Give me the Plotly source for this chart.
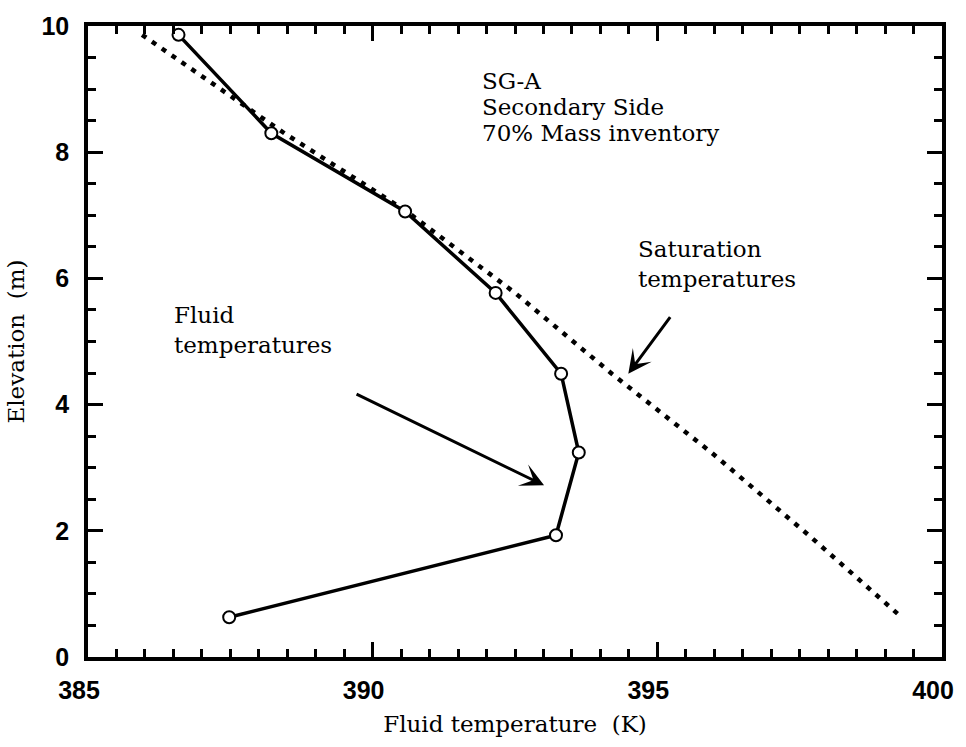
import plotly.graph_objects as go

# Node elevations (m) and temperatures (K) on the SG-A secondary side
elevation = [9.86, 8.30, 7.06, 5.77, 4.49, 3.24, 1.93, 0.63]
fluid_temp = [386.59, 388.22, 390.57, 392.16, 393.31, 393.62, 393.22, 387.48]
sat_temp = [385.95, 388.45, 390.60, 392.50, 394.20, 395.95, 397.66, 399.29]

x_range = [385, 400]
y_range = [0, 10]

SERIF = "DejaVu Serif"
SANS = "Liberation Sans"
TXT = 23

fig = go.Figure()

# saturation temperatures: dotted line
fig.add_trace(go.Scatter(
    x=sat_temp, y=elevation, mode="lines",
    line=dict(color="black", width=4.5, dash="5px,7px"),
    hoverinfo="skip", showlegend=False,
))

# fluid temperatures: solid line with open circles
fig.add_trace(go.Scatter(
    x=fluid_temp, y=elevation, mode="lines+markers",
    line=dict(color="black", width=3.5),
    marker=dict(symbol="circle", size=12, color="white",
                line=dict(color="black", width=2)),
    hoverinfo="skip", showlegend=False,
))

def label(x, y, text):
    fig.add_annotation(x=x, y=y, xref="x", yref="y", text=text,
                       showarrow=False, xanchor="left", yanchor="middle",
                       font=dict(family=SERIF, size=TXT, color="black"))

label(391.88, 9.13, "SG-A")
label(391.88, 8.72, "Secondary Side")
label(391.88, 8.31, "70% Mass inventory")

label(394.63, 6.46, "Saturation")
label(394.63, 5.99, "temperatures")

label(386.47, 5.42, "Fluid")
label(386.47, 4.95, "temperatures")

# arrows pointing at the two curves
arrow = dict(xref="x", yref="y", axref="pixel", ayref="pixel", text="",
             showarrow=True, arrowhead=3, arrowsize=1.3, arrowwidth=3,
             arrowcolor="black")
fig.add_annotation(x=393.01, y=2.72, ax=-189, ay=-92, **arrow)
fig.add_annotation(x=394.49, y=4.49, ax=43, ay=-58, **arrow)

axis_common = dict(
    showline=True, linecolor="black", linewidth=3.5, mirror="ticks",
    ticks="inside", ticklen=15, tickwidth=3, tickcolor="black",
    showgrid=False, zeroline=False,
    tickfont=dict(family=SANS, size=25, color="black", weight="bold"),
    title_font=dict(family=SERIF, size=TXT, color="black"),
)

fig.update_xaxes(
    range=x_range, dtick=5, tick0=385,
    minor=dict(ticks="inside", ticklen=8, tickwidth=2.5, dtick=0.5,
               tickcolor="black"),
    ticklabelshift=-9, ticklabelstandoff=8,
    title_text="Fluid temperature \u00a0(K)", title_standoff=14,
    **axis_common,
)
fig.update_yaxes(
    range=y_range, dtick=2, tick0=0,
    minor=dict(ticks="inside", ticklen=8, tickwidth=2.5, dtick=0.5,
               tickcolor="black"),
    ticklabelstandoff=10,
    title_text="Elevation \u00a0(m)", title_standoff=11,
    **axis_common,
)

fig.update_layout(
    width=966, height=747,
    margin=dict(l=88, r=18, t=24, b=90),
    paper_bgcolor="white", plot_bgcolor="white",
)

fig.write_html("out.html")
